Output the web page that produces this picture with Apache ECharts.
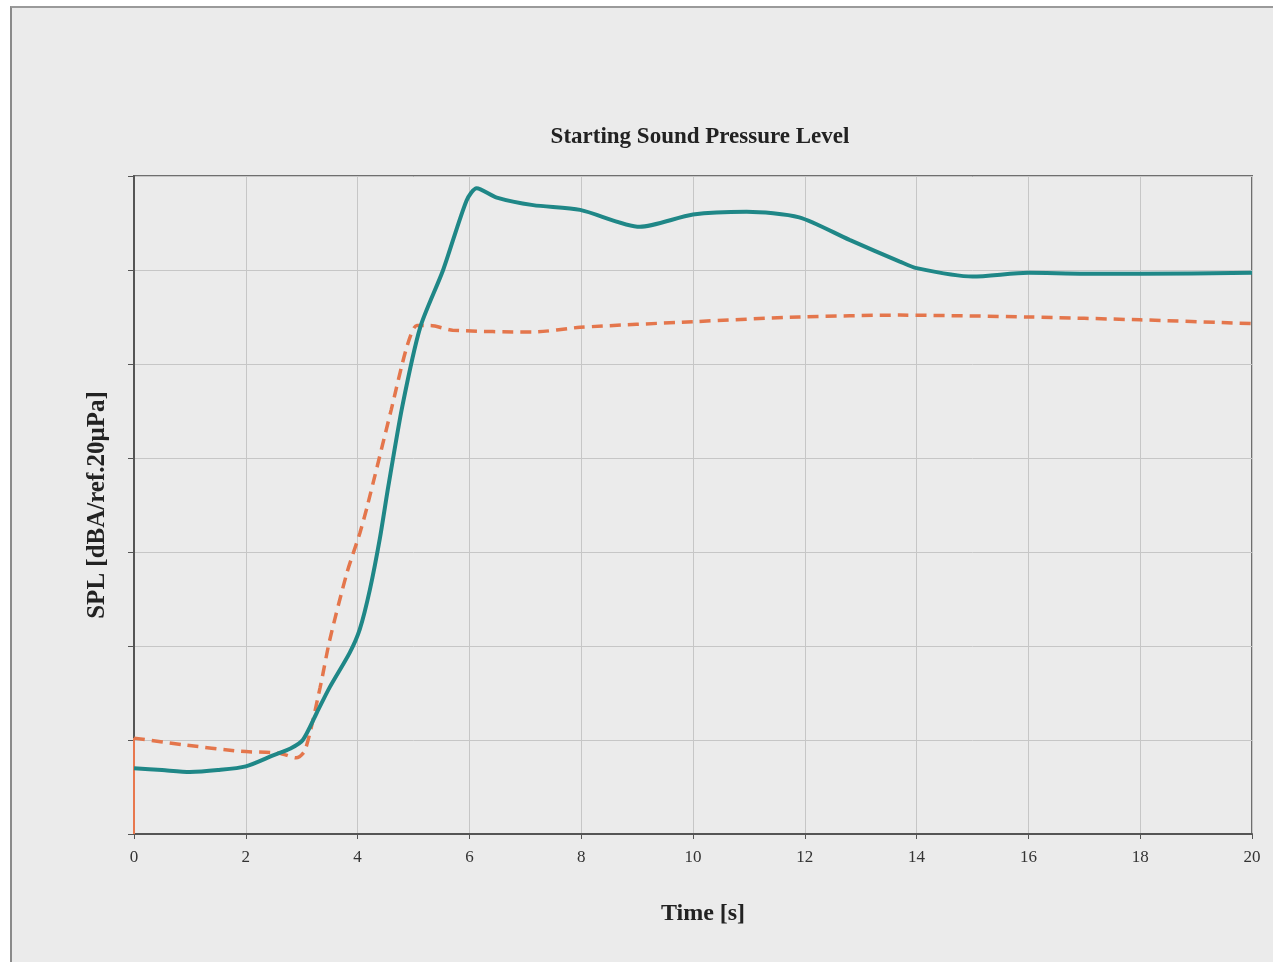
<!DOCTYPE html>
<html>
<head>
<meta charset="utf-8">
<script src="https://cdn.jsdelivr.net/npm/echarts@6/dist/echarts.min.js"></script>
<style>
  html, body { margin: 0; padding: 0; background: #fff; }
  #frame {
    position: absolute; left: 10px; top: 6px; width: 1263px; height: 956px;
    background: #ebebeb; border-left: 2px solid #8a8a8a; border-top: 2px solid #9a9a9a;
    box-sizing: border-box;
  }
  #main { position: absolute; left: 0; top: 0; width: 1273px; height: 962px; }
</style>
</head>
<body>
<div id="frame"></div>
<div id="main"></div>
<script>
// time [s] and level values (plot units, 7 grid rows)
const tealTime = [0, 0.5, 1, 1.5, 2, 2.5, 2.8, 3.02, 3.27, 3.5, 3.86, 4.04, 4.22, 4.4, 4.55, 4.8, 5.12, 5.53, 5.95, 6.13, 6.49, 7.14, 7.98, 9.05, 10, 10.96, 11.9, 12.8, 13.7, 14, 15, 16, 17, 18, 20];
const tealSpl = [0.70, 0.68, 0.66, 0.68, 0.72, 0.84, 0.91, 1.0, 1.29, 1.56, 1.93, 2.18, 2.6, 3.15, 3.7, 4.55, 5.39, 6.0, 6.74, 6.87, 6.77, 6.69, 6.64, 6.46, 6.59, 6.62, 6.56, 6.32, 6.09, 6.02, 5.93, 5.97, 5.96, 5.96, 5.97];

const orangeTime = [0, 0.88, 1.9, 2.6, 2.9, 3.06, 3.33, 3.5, 3.81, 4.04, 4.17, 4.6, 4.88, 5.06, 5.3, 5.7, 7.14, 7.98, 10, 11.9, 13.7, 16, 18, 20];
const orangeSpl = [1.02, 0.95, 0.88, 0.86, 0.81, 0.89, 1.56, 2.06, 2.78, 3.2, 3.48, 4.51, 5.18, 5.41, 5.41, 5.36, 5.34, 5.39, 5.45, 5.5, 5.52, 5.5, 5.47, 5.43];

// solid orange stroke at t = 0
const startTime = [0, 0];
const startSpl = [0, 1.02];

const xTicks = [0, 2, 4, 6, 8, 10, 12, 14, 16, 18, 20];

const zip = (a, b) => a.map((v, i) => [v, b[i]]);
const serif = '"Liberation Serif", "DejaVu Serif", serif';

const chart = echarts.init(document.getElementById('main'));
chart.setOption({
  animation: false,
  backgroundColor: 'transparent',
  title: {
    text: 'Starting Sound Pressure Level',
    left: 695, top: 121, textAlign: 'center',
    textStyle: { fontFamily: serif, fontSize: 23, fontWeight: 'bold', color: '#222' }
  },
  grid: {
    left: 134, right: 21, top: 176, bottom: 128,
    show: true, borderColor: '#6e6e6e', borderWidth: 2, backgroundColor: 'transparent'
  },
  xAxis: {
    type: 'value', min: 0, max: 20, interval: 2,
    name: 'Time [s]', nameLocation: 'middle', nameGap: 68,
    nameTextStyle: { fontFamily: serif, fontSize: 24, fontWeight: 'bold', color: '#222', padding: [0, 0, 0, 20] },
    axisLine: { lineStyle: { color: '#555', width: 2 } },
    axisTick: { show: true, length: 5, lineStyle: { color: '#555' } },
    axisLabel: {
      fontFamily: serif, fontSize: 17, color: '#333', margin: 15,
      formatter: v => xTicks.includes(v) ? String(v) : ''
    },
    splitLine: { show: true, lineStyle: { color: '#c6c6c6', width: 1 } }
  },
  yAxis: {
    type: 'value', min: 0, max: 7, interval: 1,
    name: 'SPL [dBA/ref.20μPa]', nameLocation: 'middle', nameGap: 24, nameRotate: 90,
    nameTextStyle: { fontFamily: serif, fontSize: 25, fontWeight: 'bold', color: '#222' },
    axisLine: { show: true, lineStyle: { color: '#555', width: 2 } },
    axisTick: { show: true, length: 6, lineStyle: { color: '#555' } },
    axisLabel: { show: false },
    splitLine: { show: true, lineStyle: { color: '#c6c6c6', width: 1 } }
  },
  series: [
    {
      type: 'line', data: zip(startTime, startSpl), showSymbol: false,
      lineStyle: { color: '#e8784e', width: 2 }, z: 3
    },
    {
      type: 'line', data: zip(orangeTime, orangeSpl), showSymbol: false, smooth: 0.25,
      lineStyle: { color: '#e4764c', width: 3.5, type: [11, 7] }, z: 4
    },
    {
      type: 'line', data: zip(tealTime, tealSpl), showSymbol: false, smooth: 0.25,
      lineStyle: { color: '#1f8787', width: 4 }, z: 5
    }
  ]
});
</script>
</body>
</html>
